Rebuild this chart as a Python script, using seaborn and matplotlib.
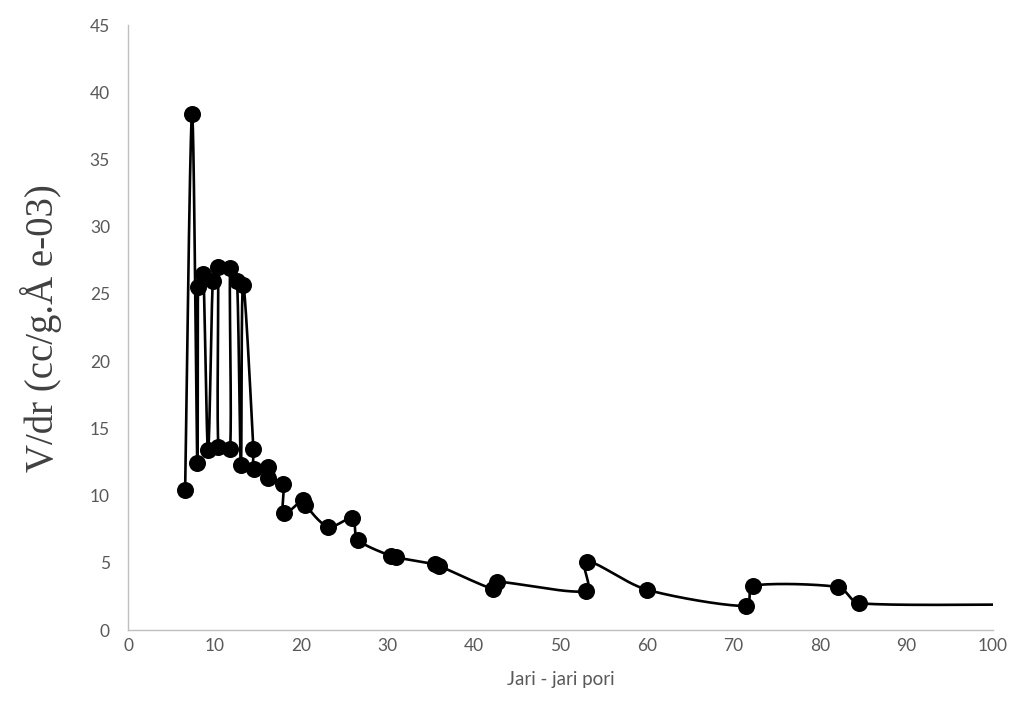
import numpy as np
import pandas as pd
import matplotlib
matplotlib.use("Agg")
import matplotlib.pyplot as plt
import seaborn as sns

# Pore radius (x) and V/dr (y), in the order the series was recorded
jari_pori = [6.6, 7.4, 8.0, 8.1, 8.7, 9.25, 9.8, 10.4, 10.45, 11.8, 11.8, 12.6,
             13.05, 13.3, 14.5, 14.6, 16.2, 16.2, 17.9, 18.0, 20.2, 20.5, 23.1,
             25.9, 26.6, 30.4, 31.0, 35.5, 35.9, 42.2, 42.7, 52.9, 53.1, 60.0,
             71.4, 72.3, 82.1, 84.5, 103.0]
v_dr = [10.4, 38.4, 12.4, 25.5, 26.5, 13.4, 26.0, 27.0, 13.6, 13.5, 26.9, 26.0,
        12.3, 25.7, 13.5, 12.0, 12.1, 11.3, 10.9, 8.7, 9.7, 9.3, 7.7,
        8.3, 6.7, 5.5, 5.4, 4.9, 4.8, 3.05, 3.6, 2.9, 5.1, 3.0,
        1.8, 3.3, 3.2, 2.0, 1.9]

x_ticks = [0, 10, 20, 30, 40, 50, 60, 70, 80, 90, 100]
y_ticks = [0, 5, 10, 15, 20, 25, 30, 35, 40, 45]
x_label = "Jari - jari pori"
y_label = "V/dr (cc/g.Å e-03)"

df = pd.DataFrame({"r": jari_pori, "v": v_dr})

sns.set_theme(style="white")
plt.rcParams["font.family"] = ["Lato", "DejaVu Sans"]

fig = plt.figure(figsize=(10.17, 7.16), dpi=100)
ax = fig.add_axes([0.1259, 0.120, 0.8505, 0.845])
ax.set_xlim(0, 100)
ax.set_ylim(0, 45)


def smooth_path(x, y, sx, sy, n=30):
    """Bezier smoothing through every point, with tangent handles kept
    shorter than a third of each segment so short hops do not overshoot."""
    px = np.asarray(x, float) * sx
    py = np.asarray(y, float) * sy
    pts = np.column_stack([px, py])
    pts_ext = np.vstack([pts[0], pts, pts[-1]])
    t = np.linspace(0, 1, n)[:, None]
    out = []
    for i in range(1, len(pts_ext) - 2):
        p0, p1, p2, p3 = pts_ext[i - 1], pts_ext[i], pts_ext[i + 1], pts_ext[i + 2]
        seg_len = np.hypot(*(p2 - p1))
        d1 = (p2 - p0) / 6.0
        d2 = (p3 - p1) / 6.0
        lim = seg_len / 3.0
        n1, n2 = np.hypot(*d1), np.hypot(*d2)
        if n1 > lim and n1 > 0:
            d1 = d1 * lim / n1
        if n2 > lim and n2 > 0:
            d2 = d2 * lim / n2
        c1 = p1 + d1
        c2 = p2 - d2
        seg = ((1 - t) ** 3) * p1 + 3 * ((1 - t) ** 2) * t * c1 + 3 * (1 - t) * t ** 2 * c2 + t ** 3 * p2
        out.append(seg if i == 1 else seg[1:])
    out = np.vstack(out)
    return out[:, 0] / sx, out[:, 1] / sy


sx = 865 / 100.0
sy = 605 / 45.0
cx, cy = smooth_path(df["r"], df["v"], sx, sy)
curve = pd.DataFrame({"r": cx, "v": cy})

sns.lineplot(data=curve, x="r", y="v", sort=False, estimator=None,
             color="black", linewidth=1.9, ax=ax, zorder=2)
sns.scatterplot(data=df, x="r", y="v", color="black", s=150,
                edgecolor="black", linewidth=0, ax=ax, zorder=3)

ax.set_xticks(x_ticks)
ax.set_yticks(y_ticks)
ax.tick_params(axis="both", which="both", length=0, labelsize=12.5,
               labelcolor="#595959")
ax.tick_params(axis="x", pad=6)
ax.tick_params(axis="y", pad=13)
for s in ["top", "right"]:
    ax.spines[s].set_visible(False)
for s in ["left", "bottom"]:
    ax.spines[s].set_color("#bfbfbf")
    ax.spines[s].set_linewidth(1.0)
ax.grid(False)

ax.set_xlabel(x_label, fontsize=13.5, color="#595959", labelpad=12)
ax.set_ylabel(y_label, fontsize=28, color="#404040", labelpad=20,
              family=["Liberation Serif", "DejaVu Serif"])

fig.savefig("out.png", dpi=100, facecolor="white")
